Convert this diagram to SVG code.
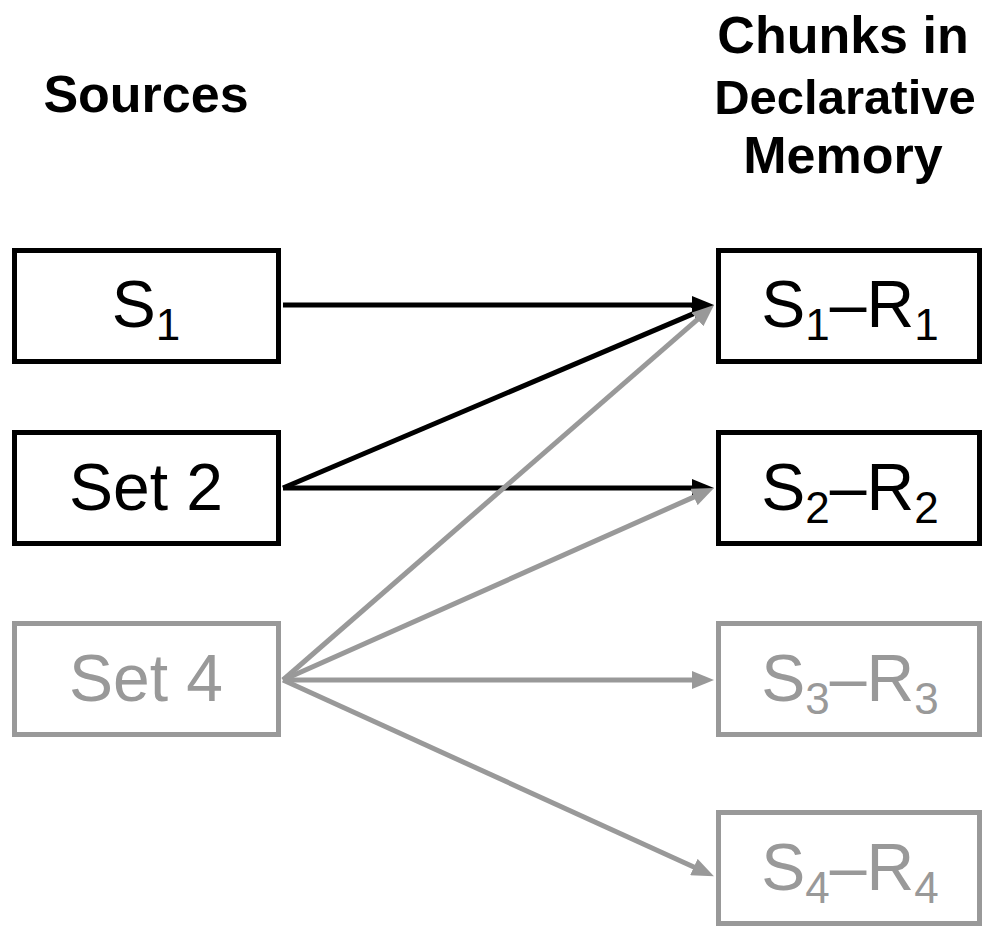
<svg xmlns="http://www.w3.org/2000/svg" width="983" height="927" viewBox="0 0 983 927">
<style>
.box{fill:#fff;stroke-width:5}
.blk{stroke:#000}
.gry{stroke:#999}
.lbl{font-family:"Liberation Sans",Arial,sans-serif;font-size:66px;text-anchor:middle}
.sub{font-size:44px}
.title{font-family:"Liberation Sans",Arial,sans-serif;font-size:52px;font-weight:bold;text-anchor:middle;fill:#000}
.ln{stroke-width:5;fill:none}
</style>
<defs>
<marker id="ab" markerUnits="userSpaceOnUse" markerWidth="22" markerHeight="18" refX="12" refY="9" orient="auto"><path d="M0,0 L22,9 L0,18 z" fill="#000"/></marker>
<marker id="ag" markerUnits="userSpaceOnUse" markerWidth="22" markerHeight="18" refX="12" refY="9" orient="auto"><path d="M0,0 L22,9 L0,18 z" fill="#999"/></marker>
</defs>
<rect width="983" height="927" fill="#fff"/>
<g id="titles">
<text class="title" x="146" y="112">Sources</text>
<text class="title" x="843" y="53">Chunks in</text>
<text class="title" x="845" y="114" style="font-size:49px">Declarative</text>
<text class="title" x="843" y="173">Memory</text>
</g>
<g id="connectors">
<line class="ln" stroke="#000" x1="283" y1="305" x2="704" y2="305" marker-end="url(#ab)"/>
<line class="ln" stroke="#000" x1="283" y1="488" x2="704.8" y2="308.9" marker-end="url(#ab)"/>
<line class="ln" stroke="#000" x1="283" y1="488" x2="704" y2="488" marker-end="url(#ab)"/>
<line class="ln" stroke="#999" x1="283" y1="680" x2="706.5" y2="311.6" marker-end="url(#ag)"/>
<line class="ln" stroke="#999" x1="283" y1="680" x2="704.9" y2="492.1" marker-end="url(#ag)"/>
<line class="ln" stroke="#999" x1="283" y1="680" x2="704" y2="680" marker-end="url(#ag)"/>
<line class="ln" stroke="#999" x1="283" y1="680" x2="704.8" y2="872" marker-end="url(#ag)"/>
</g>
<g id="S1">
<rect class="box blk" x="14.5" y="250.5" width="264" height="111"/>
<text class="lbl" x="146" y="327" fill="#000">S<tspan class="sub" dy="13">1</tspan></text>
</g>
<g id="Set2">
<rect class="box blk" x="14.5" y="432.5" width="264" height="111"/>
<text class="lbl" x="146" y="510" fill="#000">Set 2</text>
</g>
<g id="Set4">
<rect class="box gry" x="14.5" y="623.5" width="264" height="111"/>
<text class="lbl" x="146" y="701" fill="#999">Set 4</text>
</g>
<g id="S1R1">
<rect class="box blk" x="718.5" y="250.5" width="261" height="111"/>
<text class="lbl" x="850" y="327" fill="#000">S<tspan class="sub" dy="13">1</tspan><tspan dy="-13">–R</tspan><tspan class="sub" dy="13">1</tspan></text>
</g>
<g id="S2R2">
<rect class="box blk" x="718.5" y="432.5" width="261" height="111"/>
<text class="lbl" x="850" y="510" fill="#000">S<tspan class="sub" dy="13">2</tspan><tspan dy="-13">–R</tspan><tspan class="sub" dy="13">2</tspan></text>
</g>
<g id="S3R3">
<rect class="box gry" x="718.5" y="623.5" width="261" height="111"/>
<text class="lbl" x="850" y="701" fill="#999">S<tspan class="sub" dy="13">3</tspan><tspan dy="-13">–R</tspan><tspan class="sub" dy="13">3</tspan></text>
</g>
<g id="S4R4">
<rect class="box gry" x="718.5" y="812.5" width="261" height="111"/>
<text class="lbl" x="850" y="890" fill="#999">S<tspan class="sub" dy="13">4</tspan><tspan dy="-13">–R</tspan><tspan class="sub" dy="13">4</tspan></text>
</g>
</svg>
